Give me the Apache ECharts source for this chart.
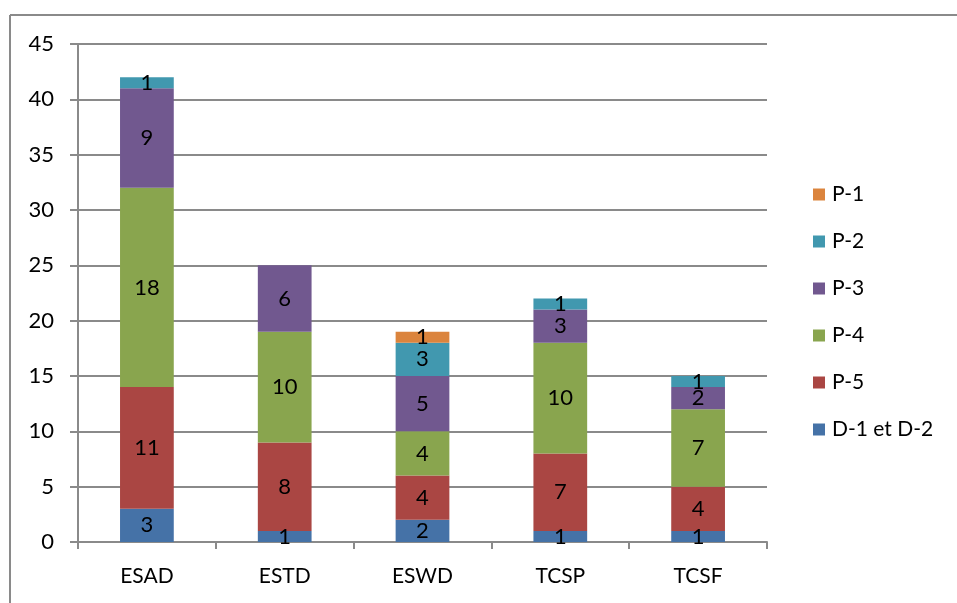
<!DOCTYPE html>
<html>
<head>
<meta charset="utf-8">
<script src="https://cdn.jsdelivr.net/npm/echarts@6/dist/echarts.min.js"></script>
<style>
  html, body { margin: 0; padding: 0; background: #fff; }
  #chart { width: 957px; height: 603px; }
</style>
</head>
<body>
<div id="chart"></div>
<script>
// Categories and stacked values, bottom segment first
const categories = ['ESAD', 'ESTD', 'ESWD', 'TCSP', 'TCSF'];
const seriesNames = ['D-1 et D-2', 'P-5', 'P-4', 'P-3', 'P-2', 'P-1'];
const d1d2 = [3, 1, 2, 1, 1];
const p5 = [11, 8, 4, 7, 4];
const p4 = [18, 10, 4, 10, 7];
const p3 = [9, 6, 5, 3, 2];
const p2 = [1, 0, 3, 1, 1];
const p1 = [0, 0, 1, 0, 0];
const yTicks = [0, 5, 10, 15, 20, 25, 30, 35, 40, 45];

const values = [d1d2, p5, p4, p3, p2, p1];
const colors = ['#4572A7', '#AA4643', '#89A54E', '#71588F', '#4198AF', '#DB843D'];
const FONT = 'Lato';
const GREY = '#8a8a8a';

const chart = echarts.init(document.getElementById('chart'));

const series = seriesNames.map((name, i) => ({
  name: name,
  type: 'bar',
  stack: 'total',
  barWidth: '39%',
  data: values[i],
  itemStyle: { color: colors[i] },
  label: {
    show: true,
    position: 'inside',
    color: '#000',
    fontFamily: FONT,
    fontSize: 22,
    formatter: p => (p.value ? String(p.value) : '')
  },
  emphasis: { disabled: true }
}));

chart.setOption({
  animation: false,
  textStyle: { fontFamily: FONT },
  grid: { left: 78, right: 190, top: 44, bottom: 61 },
  xAxis: {
    type: 'category',
    data: categories,
    axisLine: { lineStyle: { color: GREY, width: 2 } },
    axisTick: { show: true, length: 7, lineStyle: { color: GREY, width: 2 } },
    axisLabel: { color: '#000', fontFamily: FONT, fontSize: 21, margin: 24 }
  },
  yAxis: {
    type: 'value',
    min: yTicks[0],
    max: yTicks[yTicks.length - 1],
    interval: 5,
    axisLine: { show: true, lineStyle: { color: GREY, width: 2 } },
    axisTick: { show: true, length: 8, lineStyle: { color: GREY, width: 2 } },
    axisLabel: { color: '#000', fontFamily: FONT, fontSize: 22, margin: 24 },
    splitLine: { lineStyle: { color: GREY, width: 2 } }
  },
  legend: {
    orient: 'vertical',
    left: 808,
    top: 179,
    itemWidth: 12,
    itemHeight: 12,
    itemGap: 26,
    icon: 'rect',
    data: seriesNames.slice().reverse(),
    textStyle: { color: '#000', fontFamily: FONT, fontSize: 21, padding: [0, 0, 0, 2] }
  },
  graphic: [
    { type: 'line', shape: { x1: 10, y1: 15, x2: 957, y2: 15 }, style: { stroke: GREY, lineWidth: 2 } },
    { type: 'line', shape: { x1: 10, y1: 15, x2: 10, y2: 603 }, style: { stroke: GREY, lineWidth: 2 } }
  ],
  series: series
});
</script>
</body>
</html>
